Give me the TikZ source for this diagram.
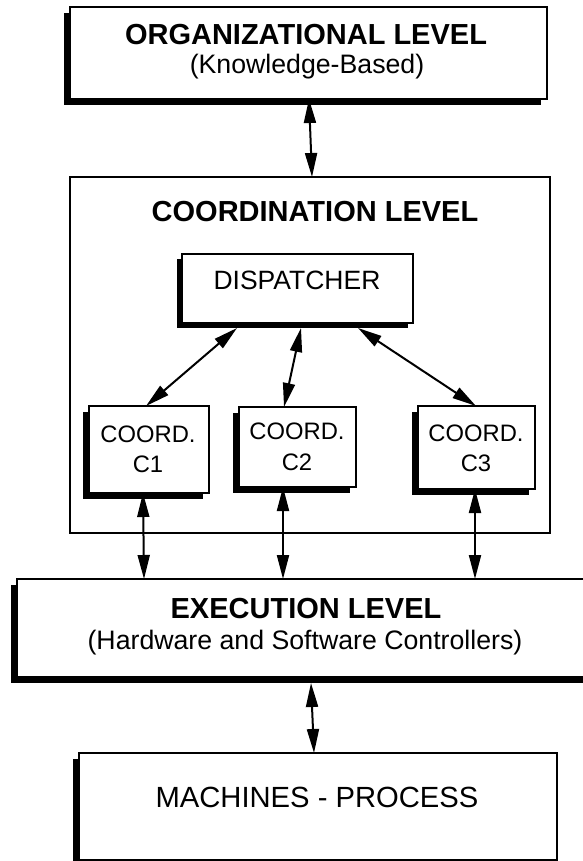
\documentclass[tikz,border=0pt]{standalone}
\usepackage{fontspec}
\setmainfont{Liberation Sans}
\usetikzlibrary{arrows.meta,shadows,calc}
\tikzset{
  box/.style={draw=black, line width=1.4pt, fill=white, rectangle, inner sep=0pt, outer sep=0pt, anchor=north west,
    general shadow={fill=black, shadow xshift=-#1, shadow yshift=-#1}},
  box/.default=6pt,
  framebox/.style={draw=black, line width=1.3pt, rectangle, inner sep=0pt, outer sep=0pt, anchor=north west},
  tip/.tip={Triangle[length=24pt,width=12pt]},
  biarrow/.style={line width=2pt, tip-tip},
  titletxt/.style={font=\bfseries\fontsize{29}{32}\selectfont, anchor=base, inner sep=0pt},
  subtxt/.style={font=\fontsize{26.7}{30}\selectfont, anchor=base, inner sep=0pt},
  disptxt/.style={font=\fontsize{26.5}{30}\selectfont, anchor=base, inner sep=0pt},
  coordtxt/.style={font=\fontsize{23.8}{26}\selectfont, anchor=base, inner sep=0pt},
  machtxt/.style={font=\fontsize{29.2}{32}\selectfont, anchor=base, inner sep=0pt},
}
\begin{document}
\begin{tikzpicture}[x=1pt,y=-1pt]
\useasboundingbox (0,0) rectangle (582,861);

% coordination frame
\node[framebox, minimum width=480pt, minimum height=356pt] (coordl) at (70,177) {};

% boxes
\node[box, minimum width=477pt, minimum height=92pt] (org) at (70,7) {};
\node[box=5pt, minimum width=231pt, minimum height=69pt] (disp) at (182,254) {};
\node[box, minimum width=120pt, minimum height=87pt] (c1) at (89,406) {};
\node[box, minimum width=117pt, minimum height=80pt] (c2) at (239,407) {};
\node[box, minimum width=117pt, minimum height=83pt] (c3) at (418,406) {};
\node[box, minimum width=700pt, minimum height=98pt] (exec) at (17,579) {};
\node[box, minimum width=478pt, minimum height=107pt] (mach) at (79,753) {};

% texts
\node[titletxt] (orgt) at (306,45) {ORGANIZATIONAL LEVEL};
\node[subtxt] (orgs) at (307,74) {(Knowledge-Based)};
\node[titletxt] (coordt) at (315,221.5) {COORDINATION LEVEL};
\node[disptxt] (dispt) at (297,289) {DISPATCHER};
\node[coordtxt] (c1a) at (148,442) {COORD.};
\node[coordtxt] (c1b) at (148,472) {C1};
\node[coordtxt] (c2a) at (297,439) {COORD.};
\node[coordtxt] (c2b) at (297,470) {C2};
\node[coordtxt] (c3a) at (476,441) {COORD.};
\node[coordtxt] (c3b) at (476,471) {C3};
\node[titletxt] (exect) at (306,618) {EXECUTION LEVEL};
\node[subtxt] (execs) at (305,649) {(Hardware and Software Controllers)};
\node[machtxt] (macht) at (317,807) {MACHINES - PROCESS};

% connectors
\draw[biarrow] (309,0 |- org.south) -- (312,0 |- coordl.north);
\draw[biarrow] ($(237,0 |- disp.south)+(0,5)$) -- (146,0 |- c1.north);
\draw[biarrow] ($(301,0 |- disp.south)+(0,5)$) -- (284,0 |- c2.north);
\draw[biarrow] ($(358,0 |- disp.south)+(0,5)$) -- (476,0 |- c3.north);
\draw[biarrow] (143,0 |- c1.south) -- (144,0 |- exec.north);
\draw[biarrow] (283,0 |- c2.south) -- (283,0 |- exec.north);
\draw[biarrow] (475,0 |- c3.south) -- (475,0 |- exec.north);
\draw[biarrow] ($(311,0 |- exec.south)+(0,6)$) -- (314,0 |- mach.north);
\end{tikzpicture}
\end{document}
